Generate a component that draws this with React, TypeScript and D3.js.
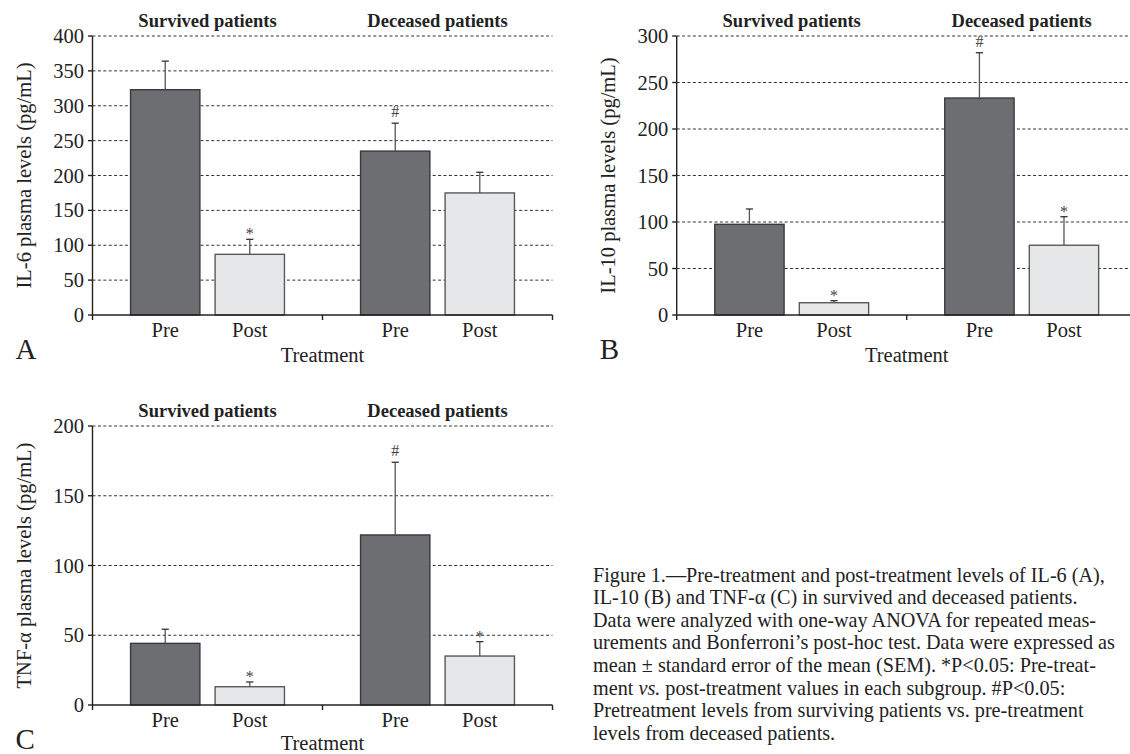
import React from 'react';
import * as d3 from 'd3';

// categories
const groups = ['Survived patients', 'Deceased patients'];
const phases = ['Pre', 'Post'];

// means and SEM per bar, order: survived pre, survived post, deceased pre, deceased post
const il6Means = [323, 87, 235, 175];
const il6Sem = [41, 21.5, 40, 29.6];
const il6Marks = ['', '*', '#', ''];
const il6Ticks = [0, 50, 100, 150, 200, 250, 300, 350, 400];

const il10Means = [97.5, 13.2, 233.3, 75];
const il10Sem = [16.5, 2.2, 48.7, 30.7];
const il10Marks = ['', '*', '#', '*'];
const il10Ticks = [0, 50, 100, 150, 200, 250, 300];

const tnfMeans = [44.2, 13.1, 121.9, 35.1];
const tnfSem = [10.1, 3.4, 52.1, 10.3];
const tnfMarks = ['', '*', '#', '*'];
const tnfTicks = [0, 50, 100, 150, 200];

const captionLines = [
  'Figure 1.\u2014Pre-treatment and post-treatment levels of IL-6 (A),',
  'IL-10 (B) and TNF-\u03b1 (C) in survived and deceased patients.',
  'Data were analyzed with one-way ANOVA for repeated meas-',
  'urements and Bonferroni\u2019s post-hoc test. Data were expressed as',
  'mean \u00b1 standard error of the mean (SEM). *P<0.05: Pre-treat-',
  'ment |vs.| post-treatment values in each subgroup. #P<0.05:',
  'Pretreatment levels from surviving patients vs. pre-treatment',
  'levels from deceased patients.',
];

const FONT = '"Liberation Serif", "Times New Roman", serif';
const DARK = '#6d6e71';
const LIGHT = '#e6e7e8';

interface PanelProps {
  x0: number;
  top: number;
  bottom: number;
  letter: string;
  yLabel: string;
  means: number[];
  sem: number[];
  marks: string[];
  ticks: number[];
  titleDy?: number;
}

const Panel: React.FC<PanelProps> = ({ x0, top, bottom, letter, yLabel, means, sem, marks, ticks, titleDy = 47 }) => {
  const groupW = 230;
  const x1 = x0 + groupW * 2;
  const y = d3.scaleLinear().domain([0, ticks[ticks.length - 1]]).range([bottom, top]);
  const gx = d3.scaleBand().domain(groups).range([x0, x1]);
  const px = d3.scaleBand().domain(phases).range([0, groupW]).paddingInner(0.18).paddingOuter(0.45);

  const bars = groups.flatMap((g, gi) =>
    phases.map((p, pi) => {
      const i = gi * 2 + pi;
      return { g, p, i, x: (gx(g) ?? 0) + (px(p) ?? 0), w: px.bandwidth(), v: means[i], e: sem[i], m: marks[i] };
    })
  );

  return (
    <g>
      {/* grid */}
      {ticks.filter(t => t > 0).map(t => (
        <line key={'g' + t} x1={x0} x2={x1} y1={y(t)} y2={y(t)} stroke="#333" strokeWidth={1} strokeDasharray="3 2.4" />
      ))}
      {/* bars */}
      {bars.map(b => (
        <g key={b.i}>
          <rect x={b.x} y={y(b.v)} width={b.w} height={bottom - y(b.v)}
            fill={b.p === 'Pre' ? DARK : LIGHT} stroke={b.p === 'Pre' ? '#3a3a3a' : '#58595b'} strokeWidth={1.4} />
          <line x1={b.x + b.w / 2} x2={b.x + b.w / 2} y1={y(b.v)} y2={y(b.v + b.e)} stroke="#555" strokeWidth={1.3} />
          <line x1={b.x + b.w / 2 - 3.6} x2={b.x + b.w / 2 + 3.6} y1={y(b.v + b.e)} y2={y(b.v + b.e)} stroke="#333" strokeWidth={1.3} />
          {b.m && (
            <text x={b.x + b.w / 2} y={y(b.v + b.e) - (b.m === '#' ? 6 : 0)} textAnchor="middle"
              fontFamily={FONT} fontSize={16} fill="#444">{b.m}</text>
          )}
          <text x={b.x + b.w / 2} y={bottom + 22} textAnchor="middle" fontFamily={FONT} fontSize={20.5} fill="#222">{b.p}</text>
        </g>
      ))}
      {/* axes */}
      <line x1={x0} x2={x0} y1={top} y2={bottom} stroke="#222" strokeWidth={1.4} />
      <line x1={x0} x2={x1} y1={bottom} y2={bottom} stroke="#222" strokeWidth={1.4} />
      {ticks.map(t => (
        <g key={'t' + t}>
          <line x1={x0 - 4.5} x2={x0} y1={y(t)} y2={y(t)} stroke="#222" strokeWidth={1.4} />
          <text x={x0 - 8.5} y={y(t) + 7} textAnchor="end" fontFamily={FONT} fontSize={20.5} fill="#222">{t}</text>
        </g>
      ))}
      {[x0, x0 + groupW, x1].map(v => (
        <line key={'xt' + v} x1={v} x2={v} y1={bottom} y2={bottom + 5} stroke="#222" strokeWidth={1.4} />
      ))}
      {groups.map(g => (
        <text key={g} x={(gx(g) ?? 0) + groupW / 2} y={top - 9} textAnchor="middle" fontFamily={FONT}
          fontWeight="bold" fontSize={18.5} fill="#222">{g}</text>
      ))}
      <text x={x0 + groupW} y={bottom + titleDy} textAnchor="middle" fontFamily={FONT} fontSize={20.5} fill="#222">Treatment</text>
      <text transform={`translate(${x0 - 62},${(top + bottom) / 2}) rotate(-90)`} textAnchor="middle"
        fontFamily={FONT} fontSize={20.5} fill="#222">{yLabel}</text>
      <text x={x0 - 77} y={bottom + 44} fontFamily={FONT} fontSize={29} fill="#222">{letter}</text>
    </g>
  );
};

const App: React.FC = () => {
  return (
    <svg width={1130} height={754} style={{ position: 'absolute', left: 0, top: 0, background: '#fff' }}>
      <Panel x0={92.5} top={36} bottom={315} letter="A" yLabel="IL-6 plasma levels (pg/mL)"
        means={il6Means} sem={il6Sem} marks={il6Marks} ticks={il6Ticks} />
      <Panel x0={676.7} top={36} bottom={315} letter="B" yLabel="IL-10 plasma levels (pg/mL)"
        means={il10Means} sem={il10Sem} marks={il10Marks} ticks={il10Ticks} />
      <Panel x0={92.5} top={426} bottom={705} letter="C" yLabel={'TNF-\u03b1 plasma levels (pg/mL)'}
        means={tnfMeans} sem={tnfSem} marks={tnfMarks} ticks={tnfTicks} titleDy={44.5} />
      <g fontFamily={FONT} fontSize={20.2} fill="#222">
        {captionLines.map((line, i) => (
          <text key={i} x={593} y={581.5 + i * 22.6}>
            {line.split('|').map((part, j) => (
              <tspan key={j} fontStyle={j % 2 === 1 ? 'italic' : 'normal'}>{part}</tspan>
            ))}
          </text>
        ))}
      </g>
    </svg>
  );
};

export default App;
